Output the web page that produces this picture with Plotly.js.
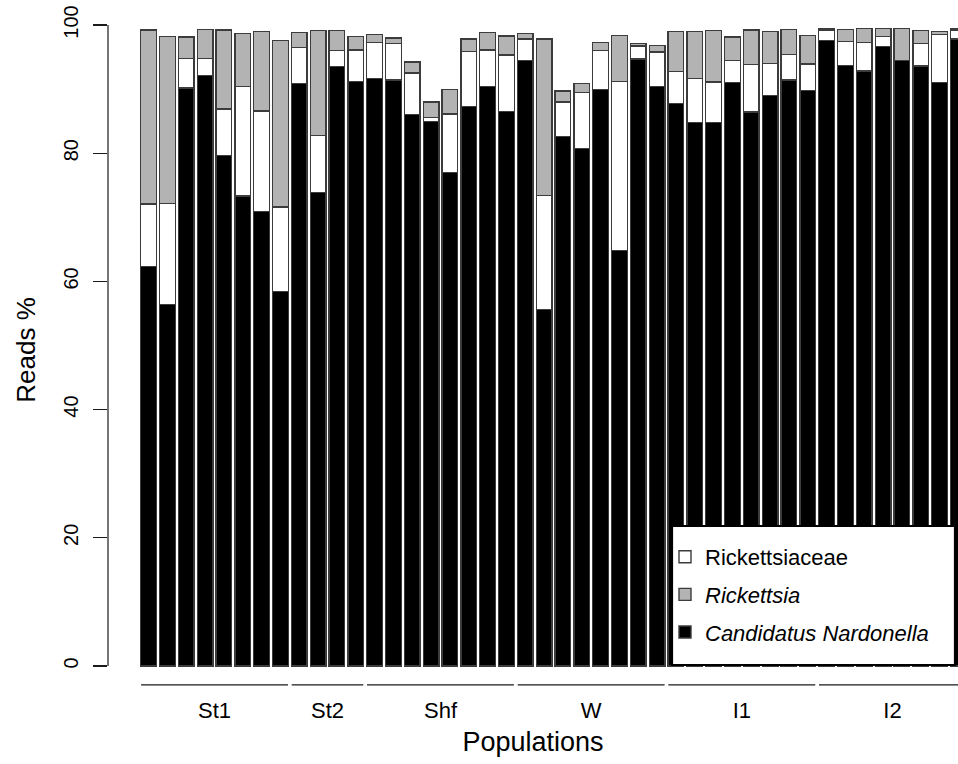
<!DOCTYPE html>
<html>
<head>
<meta charset="utf-8">
<script src="https://cdn.plot.ly/plotly-3.0.1.min.js"></script>
<style>
  html, body { margin: 0; padding: 0; background: #ffffff; }
  #chart { width: 958px; height: 764px; }
</style>
</head>
<body>
<div id="chart"></div>
<script>
// ---- Data ----
const groups = ["St1", "St2", "Shf", "W", "I1", "I2"];
const groupSizes = [8, 4, 8, 8, 8, 8];

const seriesNames = ["Candidatus Nardonella", "Rickettsiaceae", "Rickettsia"];

const nardonella = [
  62.3, 56.4, 90.2, 92.1, 79.6, 73.3, 70.9, 58.4,
  90.9, 73.9, 93.5, 91.2,
  91.7, 91.4, 86.0, 84.9, 77.0, 87.3, 90.4, 86.5,
  94.5, 55.6, 82.6, 80.7, 89.9, 64.8, 94.7, 90.4,
  87.8, 84.8, 84.8, 91.0, 86.4, 89.0, 91.4, 89.8,
  97.6, 93.7, 92.8, 96.6, 94.5, 93.6, 91.0, 97.8
];
const rickettsiaceae = [
  9.8, 15.8, 4.6, 2.7, 7.3, 17.1, 15.7, 13.2,
  5.6, 8.9, 2.5, 4.9,
  5.6, 5.7, 6.5, 0.7, 9.1, 8.6, 5.7, 8.8,
  3.3, 17.8, 5.4, 8.8, 6.1, 26.4, 2.0, 5.4,
  4.9, 6.9, 6.3, 3.5, 7.4, 5.0, 4.0, 4.1,
  1.6, 3.7, 4.5, 1.6, 0.0, 3.5, 7.5, 1.4
];
const rickettsia = [
  27.1, 26.0, 3.3, 4.5, 12.3, 8.3, 12.4, 26.0,
  2.3, 16.3, 3.1, 2.1,
  1.2, 0.9, 1.7, 2.4, 3.8, 1.9, 2.7, 3.0,
  0.9, 24.4, 1.7, 1.4, 1.3, 7.2, 0.4, 1.0,
  6.3, 7.3, 8.0, 3.6, 5.4, 5.0, 3.9, 4.5,
  0.2, 1.9, 2.2, 1.3, 5.0, 2.0, 0.5, 0.2
];
const yTicks = [0, 20, 40, 60, 80, 100];

// ---- Layout geometry ----
const ML = 108, MR = 0, MT = 10, MB = 74;
const FIG_W = 958, FIG_H = 764;
const PW = FIG_W - ML - MR, PH = FIG_H - MT - MB;
const px2x = p => (p - ML) / PW;          // pixel -> paper x
const py2y = p => (FIG_H - MB - p) / PH;  // pixel -> paper y

const barIdx = nardonella.map((_, i) => i);
const FONT = "Liberation Sans, Arial, Helvetica, sans-serif";
const lineCol = "#1a1a1a";
const outline = { color: "#3c3c3c", width: 1.4 };

// group boundaries, centers
const starts = [];
let acc = 0;
groupSizes.forEach(n => { starts.push(acc); acc += n; });
const centers = starts.map((s, k) => s + (groupSizes[k] - 1) / 2);

const traces = [
  { name: "<i>" + seriesNames[0] + "</i>", y: nardonella, color: "#000000", rank: 3 },
  { name: seriesNames[1], y: rickettsiaceae, color: "#ffffff", rank: 1 },
  { name: "<i>" + seriesNames[2] + "</i>", y: rickettsia, color: "#b3b3b3", rank: 2 }
].map(s => ({
  type: "bar",
  x: barIdx,
  y: s.y,
  name: s.name,
  width: 1 / 1.2,
  marker: { color: s.color, line: outline },
  legendrank: s.rank,
  legendgroup: s.name,
  hoverinfo: "y+name"
}));

const shapes = [];
// y axis line from 0 to 100 only
shapes.push({
  type: "line", xref: "paper", yref: "y",
  x0: 0, x1: 0, y0: yTicks[0], y1: yTicks[yTicks.length - 1],
  line: { color: lineCol, width: 1.2 }
});
// group underline segments
groups.forEach((g, k) => {
  shapes.push({
    type: "line", xref: "x", yref: "y",
    x0: starts[k] - 0.4, x1: starts[k] + groupSizes[k] - 1 + 0.4,
    y0: -2.96, y1: -2.96,
    line: { color: lineCol, width: 1.2 }
  });
});
// legend frame
shapes.push({
  type: "rect", xref: "paper", yref: "paper", layer: "above",
  x0: px2x(672), x1: px2x(955), y0: py2y(665), y1: py2y(526),
  fillcolor: "#ffffff", line: { color: "#000000", width: 2.2 }
});

const layout = {
  width: FIG_W, height: FIG_H,
  margin: { l: ML, r: MR, t: MT, b: MB, pad: 0 },
  paper_bgcolor: "#ffffff", plot_bgcolor: "#ffffff",
  font: { family: FONT, color: "#000000", size: 20 },
  barmode: "stack",
  showlegend: true,
  legend: {
    x: px2x(665), xanchor: "left",
    y: py2y(536), yanchor: "top",
    bgcolor: "rgba(0,0,0,0)", borderwidth: 0,
    font: { family: FONT, size: 22, color: "#000000" },
    traceorder: "grouped",
    tracegroupgap: 6
  },
  xaxis: {
    range: [-2.156, 42.98],
    showgrid: false, zeroline: false, showline: false,
    tickmode: "array", tickvals: centers, ticktext: groups,
    ticks: "", tickfont: { family: FONT, size: 22 },
    ticklabelstandoff: 5,
    title: { text: "Populations", font: { family: FONT, size: 27 }, standoff: 10 },
    fixedrange: true
  },
  yaxis: {
    range: [-3.744, 102.34],
    showgrid: false, zeroline: false, showline: false,
    tickmode: "array", tickvals: yTicks,
    ticks: "outside", ticklen: 14, tickwidth: 1.2, tickcolor: lineCol,
    tickangle: -90,
    ticklabelstandoff: 7,
    tickfont: { family: FONT, size: 20 },
    title: { text: "Reads %", font: { family: FONT, size: 26 }, standoff: 16 },
    fixedrange: true
  },
  shapes: shapes
};

Plotly.newPlot("chart", traces, layout, { staticPlot: true, displayModeBar: false });
</script>
</body>
</html>
